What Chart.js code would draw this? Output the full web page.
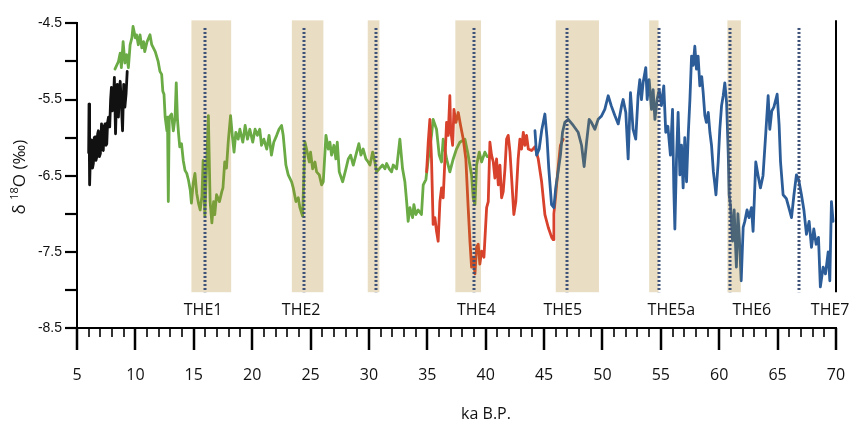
<!DOCTYPE html>
<html>
<head>
<meta charset="utf-8">
<script src="https://cdn.jsdelivr.net/npm/chart.js@4.4.0/dist/chart.umd.min.js"></script>
<style>
  html, body { margin: 0; padding: 0; background: #fff; }
  #wrap { width: 858px; height: 431px; }
</style>
</head>
<body>
<div id="wrap"><canvas id="myChart" width="858" height="431"></canvas></div>
<script>
// stalagmite records, age in ka B.P. and d18O in permil
let blackAge = [6.0, 6.03, 6.08, 6.18, 6.25, 6.33, 6.4, 6.48, 6.55, 6.62, 6.7, 6.77, 6.83, 6.92, 7.0, 7.1, 7.18, 7.25, 7.33, 7.4, 7.48, 7.55, 7.62, 7.7, 7.8, 7.88, 7.95, 8.02, 8.1, 8.2, 8.3, 8.38, 8.45, 8.55, 8.62, 8.7, 8.8, 8.9, 9.0, 9.1, 9.2, 9.3];
let blackD18O = [-6.2, -5.56, -6.62, -6.05, -6.03, -6.4, -6.34, -6.0, -5.99, -6.3, -6.25, -5.95, -5.91, -6.25, -6.21, -5.82, -6.12, -6.17, -5.85, -5.82, -6.1, -6.08, -5.8, -5.73, -5.86, -5.5, -5.34, -5.65, -5.6, -5.21, -5.95, -5.5, -5.3, -5.73, -5.4, -5.26, -5.56, -5.91, -5.3, -5.6, -5.43, -5.13];

let greenAge = [8.25, 8.55, 8.7, 8.8, 8.95, 9.1, 9.25, 9.4, 9.55, 9.7, 9.8, 10.0, 10.1, 10.25, 10.4, 10.55, 10.7, 10.8, 11.0, 11.25, 11.4, 11.7, 11.95, 12.1, 12.25, 12.35, 12.45, 12.55, 12.7, 12.75, 12.82, 12.9, 13.1, 13.25, 13.4, 13.5, 13.6, 13.7, 13.8, 13.95, 14.1, 14.25, 14.4, 14.55, 14.7, 14.8, 14.95, 15.1, 15.25, 15.4, 15.55, 15.7, 15.8, 15.95, 16.25, 16.4, 16.55, 16.7, 16.8, 16.95, 17.2, 17.4, 17.5, 17.65, 17.8, 17.95, 18.15, 18.3, 18.45, 18.6, 18.8, 18.95, 19.2, 19.4, 19.6, 19.8, 20.05, 20.25, 20.45, 20.65, 20.8, 21.0, 21.25, 21.45, 21.65, 21.85, 22.1, 22.3, 22.52, 22.66, 22.89, 23.09, 23.38, 23.52, 23.75, 23.95, 24.09, 24.32, 24.52, 24.66, 24.89, 25.0, 25.18, 25.38, 25.52, 25.75, 25.95, 26.09, 26.32, 26.52, 26.66, 26.8, 27.0, 27.17, 27.29, 27.46, 27.75, 28.03, 28.23, 28.43, 28.66, 28.95, 29.14, 29.32, 29.51, 29.74, 29.94, 30.09, 30.32, 30.51, 30.66, 30.88, 31.17, 31.37, 31.52, 31.74, 31.94, 32.08, 32.37, 32.65, 32.88, 33.08, 33.23, 33.36, 33.51, 33.74, 33.85, 34.02, 34.22, 34.5, 34.65, 34.88, 35.08, 35.36, 35.5, 35.79, 36.02, 36.22, 36.36, 36.65, 36.93, 37.22, 37.5, 37.79, 38.22, 38.5, 38.79, 38.93, 39.08, 39.22, 39.45, 39.65, 39.93, 40.13];
let greenD18O = [-5.1, -5.0, -4.89, -5.08, -4.74, -5.02, -4.91, -5.08, -4.78, -4.69, -4.54, -4.69, -4.65, -4.78, -4.65, -4.82, -4.74, -4.87, -4.74, -4.65, -4.78, -4.87, -5.0, -5.13, -5.17, -5.39, -5.43, -5.73, -5.91, -5.73, -6.84, -5.73, -5.69, -5.91, -5.73, -5.28, -5.75, -5.95, -6.12, -6.08, -6.3, -6.43, -6.47, -6.56, -6.69, -6.86, -6.6, -6.47, -6.73, -6.86, -6.95, -6.77, -6.3, -7.03, -5.71, -6.84, -7.12, -6.84, -7.01, -6.75, -6.84, -6.71, -6.66, -6.32, -6.4, -6.06, -5.71, -5.97, -6.19, -5.93, -6.02, -5.89, -6.06, -5.84, -6.02, -5.89, -6.06, -5.89, -5.97, -5.89, -6.1, -6.02, -6.15, -5.97, -6.23, -6.06, -5.97, -5.89, -5.84, -5.97, -6.36, -6.49, -6.58, -6.66, -6.84, -6.79, -6.92, -7.03, -6.06, -6.15, -6.32, -6.19, -6.41, -6.32, -6.45, -6.49, -6.62, -6.58, -5.97, -6.15, -6.06, -6.23, -6.1, -6.28, -6.06, -6.45, -6.58, -6.41, -6.28, -6.23, -6.36, -6.19, -6.08, -6.23, -6.15, -6.28, -6.32, -6.36, -6.19, -6.32, -6.45, -6.41, -6.36, -6.41, -6.34, -6.41, -6.45, -6.36, -6.41, -6.02, -6.41, -6.58, -6.84, -7.1, -6.92, -7.05, -6.88, -7.01, -6.95, -7.01, -6.62, -6.55, -6.28, -5.97, -5.76, -5.89, -6.23, -6.32, -6.02, -6.28, -6.45, -6.28, -6.15, -6.06, -6.02, -6.23, -6.49, -6.79, -6.88, -6.36, -6.19, -6.32, -6.19, -6.25, -6.32];

let redAge = [34.94, 35.08, 35.22, 35.36, 35.5, 35.65, 35.79, 35.93, 36.08, 36.22, 36.36, 36.51, 36.65, 36.79, 36.93, 37.0, 37.17, 37.28, 37.45, 37.65, 37.85, 38.08, 38.3, 38.5, 38.65, 38.79, 38.93, 39.08, 39.22, 39.36, 39.5, 39.65, 39.85, 40.08, 40.22, 40.36, 40.5, 40.65, 40.79, 40.93, 41.08, 41.22, 41.36, 41.5, 41.65, 41.79, 41.93, 42.08, 42.22, 42.41, 42.58, 42.78, 42.93, 43.07, 43.22, 43.36, 43.5, 43.65, 43.93, 44.22, 44.5, 44.79, 45.07, 45.36, 45.65, 45.78, 45.84, 46.0, 46.2, 46.4, 46.64];
let redD18O = [-6.45, -6.06, -5.76, -6.28, -7.14, -7.05, -7.23, -7.36, -6.84, -6.66, -6.79, -6.28, -5.8, -5.97, -5.45, -5.89, -6.1, -5.63, -5.8, -5.67, -5.84, -6.02, -6.28, -6.92, -7.36, -7.7, -7.57, -7.79, -7.44, -7.4, -7.66, -7.49, -7.57, -6.92, -6.84, -6.06, -6.23, -6.32, -6.53, -6.28, -6.62, -6.36, -6.79, -6.71, -6.41, -6.02, -5.97, -6.19, -6.53, -7.01, -6.84, -6.28, -6.02, -6.15, -5.93, -6.1, -5.97, -6.15, -6.17, -6.12, -6.28, -6.58, -7.01, -7.18, -7.31, -7.34, -7.0, -6.75, -6.4, -6.1, -6.02];

let blueAge = [44.22, 44.36, 44.58, 44.8, 45.07, 45.25, 45.4, 45.64, 45.84, 46.0, 46.2, 46.4, 46.58, 46.78, 47.07, 47.5, 47.92, 48.21, 48.43, 48.64, 48.86, 49.05, 49.35, 49.63, 49.9, 50.2, 50.49, 50.75, 51.06, 51.35, 51.64, 51.77, 52.0, 52.2, 52.4, 52.62, 52.85, 53.05, 53.2, 53.34, 53.48, 53.71, 53.83, 54.0, 54.2, 54.34, 54.49, 54.68, 54.86, 55.05, 55.25, 55.42, 55.6, 55.82, 56.0, 56.11, 56.2, 56.34, 56.48, 56.63, 56.77, 56.91, 57.05, 57.2, 57.35, 57.49, 57.63, 57.77, 57.91, 58.05, 58.19, 58.34, 58.5, 58.62, 58.77, 58.9, 59.06, 59.2, 59.34, 59.5, 59.63, 59.72, 59.91, 60.05, 60.2, 60.34, 60.48, 60.63, 60.77, 60.85, 60.97, 61.14, 61.28, 61.47, 61.6, 61.72, 61.88, 62.05, 62.19, 62.38, 62.55, 62.76, 62.9, 63.13, 63.33, 63.53, 63.75, 63.99, 64.19, 64.33, 64.5, 64.68, 64.96, 65.13, 65.25, 65.47, 65.75, 66.05, 66.19, 66.4, 66.61, 66.8, 67.04, 67.25, 67.47, 67.7, 67.9, 68.1, 68.3, 68.5, 68.66, 68.9, 69.1, 69.33, 69.47, 69.61, 69.75, 69.95];
let blueD18O = [-5.91, -6.23, -6.15, -5.9, -5.69, -6.0, -6.4, -6.88, -6.92, -6.66, -6.45, -6.23, -5.93, -5.8, -5.76, -5.84, -5.93, -6.1, -6.38, -6.06, -5.76, -5.8, -5.89, -5.76, -5.72, -5.63, -5.45, -5.58, -5.71, -5.82, -5.58, -5.5, -5.67, -6.28, -5.41, -5.89, -6.02, -5.45, -5.24, -5.5, -5.28, -5.08, -5.5, -5.24, -5.63, -5.37, -5.76, -5.5, -5.37, -5.58, -5.32, -5.93, -5.85, -6.23, -5.63, -6.66, -7.2, -6.28, -5.67, -6.49, -6.1, -6.66, -6.0, -6.58, -5.95, -5.5, -4.93, -5.05, -4.8, -5.1, -4.93, -5.32, -5.2, -5.4, -5.71, -5.8, -5.67, -5.93, -6.1, -6.45, -6.62, -6.75, -6.32, -5.89, -5.58, -5.45, -5.28, -5.54, -6.19, -6.75, -6.9, -7.36, -6.95, -7.7, -7.0, -7.3, -7.88, -7.18, -7.1, -6.95, -7.05, -6.92, -7.23, -6.32, -6.5, -6.66, -6.5, -5.93, -5.45, -5.89, -5.65, -5.6, -5.43, -5.84, -6.32, -6.75, -6.8, -6.97, -7.05, -6.75, -6.49, -6.55, -6.75, -6.95, -7.27, -7.1, -7.44, -7.2, -7.4, -7.31, -7.96, -7.7, -7.79, -7.5, -7.88, -6.84, -7.1];

// Heinrich-type events: shaded ranges, dotted event ages and labels
let bandFrom = [14.8, 23.4, 29.9, 37.4, 46.0, 54.0, 60.7];
let bandTo = [18.2, 26.1, 30.9, 39.6, 49.7, 54.8, 61.85];
let eventAge = [16.0, 24.4, 30.6, 39.0, 46.95, 54.8, 60.9, 66.8];
let eventNames = ['THE1', 'THE2', 'THE4', 'THE5', 'THE5a', 'THE6', 'THE7'];
let eventLabelAge = [15.8, 24.2, 39.2, 46.6, 55.9, 62.8, 69.5];

const pts = (ages, vals) => ages.map((a, i) => ({ x: a, y: vals[i] }));

const bandTop = -4.46, bandBottom = -8.03;

const overlays = {
    id: 'overlays',
    afterDatasetsDraw(chart) {
        const ctx = chart.ctx, x = chart.scales.x, y = chart.scales.y;
        const top = y.getPixelForValue(bandTop), bottom = y.getPixelForValue(bandBottom);
        ctx.save();
        // bands are translucent, so the curves underneath get tinted
        ctx.fillStyle = 'rgba(170, 128, 28, 0.26)';
        bandFrom.forEach((a, i) => {
            const x0 = x.getPixelForValue(a), x1 = x.getPixelForValue(bandTo[i]);
            ctx.fillRect(x0, top, x1 - x0, bottom - top);
        });
        // dotted event lines
        ctx.strokeStyle = '#3c5078';
        ctx.lineWidth = 3;
        ctx.setLineDash([2, 2]);
        eventAge.forEach(a => {
            const px = Math.round(x.getPixelForValue(a));
            ctx.beginPath();
            ctx.moveTo(px, y.getPixelForValue(-4.56));
            ctx.lineTo(px, bottom);
            ctx.stroke();
        });
        ctx.setLineDash([]);
        // right edge
        const xr = x.getPixelForValue(70);
        ctx.strokeStyle = '#000';
        ctx.lineWidth = 2;
        ctx.beginPath();
        ctx.moveTo(xr, top);
        ctx.lineTo(xr, bottom);
        ctx.stroke();
        // event names
        ctx.fillStyle = '#111';
        ctx.font = '16px "Open Sans"';
        ctx.textAlign = 'center';
        ctx.textBaseline = 'middle';
        eventNames.forEach((n, i) => ctx.fillText(n, x.getPixelForValue(eventLabelAge[i]), bottom + 18));
        ctx.restore();
    },
    afterDraw(chart) {
        const ctx = chart.ctx, x = chart.scales.x, y = chart.scales.y;
        const base = y.bottom, left = x.left;
        ctx.save();
        ctx.strokeStyle = '#000';
        for (let v = 5; v <= 70; v++) {
            const px = Math.round(x.getPixelForValue(v));
            const major = v % 5 === 0;
            ctx.lineWidth = major ? 2.5 : 1.6;
            ctx.beginPath();
            ctx.moveTo(px, base);
            ctx.lineTo(px, base + (major ? 22 : 9));
            ctx.stroke();
        }
        ctx.lineWidth = 2.2;
        for (let k = 0; k <= 8; k++) {
            const py = Math.round(y.getPixelForValue(-8.5 + k * 0.5));
            ctx.beginPath();
            ctx.moveTo(left - 12, py);
            ctx.lineTo(left, py);
            ctx.stroke();
        }
        // axis titles
        ctx.fillStyle = '#111';
        ctx.textBaseline = 'middle';
        ctx.font = '16px "Open Sans"';
        ctx.textAlign = 'center';
        ctx.fillText('ka B.P.', 486, 414);

        ctx.translate(20, 177);
        ctx.rotate(-Math.PI / 2);
        const big = '17px "Open Sans"', small = '11px "Open Sans"';
        ctx.font = big;
        const w1 = ctx.measureText('δ ').width, w3 = ctx.measureText('O (‰)').width;
        ctx.font = small;
        const w2 = ctx.measureText('18').width;
        let cx = -(w1 + w2 + w3) / 2;
        ctx.textAlign = 'left';
        ctx.font = big;
        ctx.fillText('δ ', cx, 0);
        cx += w1;
        ctx.font = small;
        ctx.fillText('18', cx, -5);
        cx += w2;
        ctx.font = big;
        ctx.fillText('O (‰)', cx, 0);
        ctx.restore();
    }
};

let mychart = document.getElementById('myChart').getContext('2d');

let chart = new Chart(mychart, {
    type: 'line',
    data: {
        datasets: [
            { label: 'blue', data: pts(blueAge, blueD18O), borderColor: '#2c5d98' },
            { label: 'red', data: pts(redAge, redD18O), borderColor: '#d8412b' },
            { label: 'black', data: pts(blackAge, blackD18O), borderColor: '#111111' },
            { label: 'green', data: pts(greenAge, greenD18O), borderColor: '#6aab45' }
        ]
    },
    options: {
        responsive: false,
        animation: false,
        devicePixelRatio: 1,
        layout: { padding: { top: 20, right: 22, left: 0, bottom: 0 } },
        elements: {
            point: { radius: 0 },
            line: { borderWidth: 2.8, tension: 0, borderJoinStyle: 'round', borderCapStyle: 'round' }
        },
        plugins: { legend: { display: false }, tooltip: { enabled: false } },
        scales: {
            x: {
                type: 'linear', min: 5, max: 70,
                // tick padding would otherwise widen the side margins
                afterFit: s => { s.height = 103; s.paddingLeft = 0; s.paddingRight = 0; },
                grid: { display: false, drawTicks: false },
                border: { display: true, color: '#000', width: 2 },
                ticks: { stepSize: 5, padding: 38, color: '#111', maxRotation: 0, font: { family: '"Open Sans"', size: 16 } }
            },
            y: {
                min: -8.5, max: -4.5,
                afterFit: s => { s.width = 77; },
                grid: { display: false, drawTicks: false },
                border: { display: true, color: '#000', width: 2 },
                ticks: {
                    stepSize: 0.5, padding: 15, color: '#111',
                    font: { family: '"Liberation Sans Narrow", "Liberation Sans"', size: 14 },
                    callback: v => (Math.round(v * 2) % 2 !== 0) ? v.toFixed(1) : ''
                }
            }
        }
    },
    plugins: [overlays]
});
</script>
</body>
</html>
